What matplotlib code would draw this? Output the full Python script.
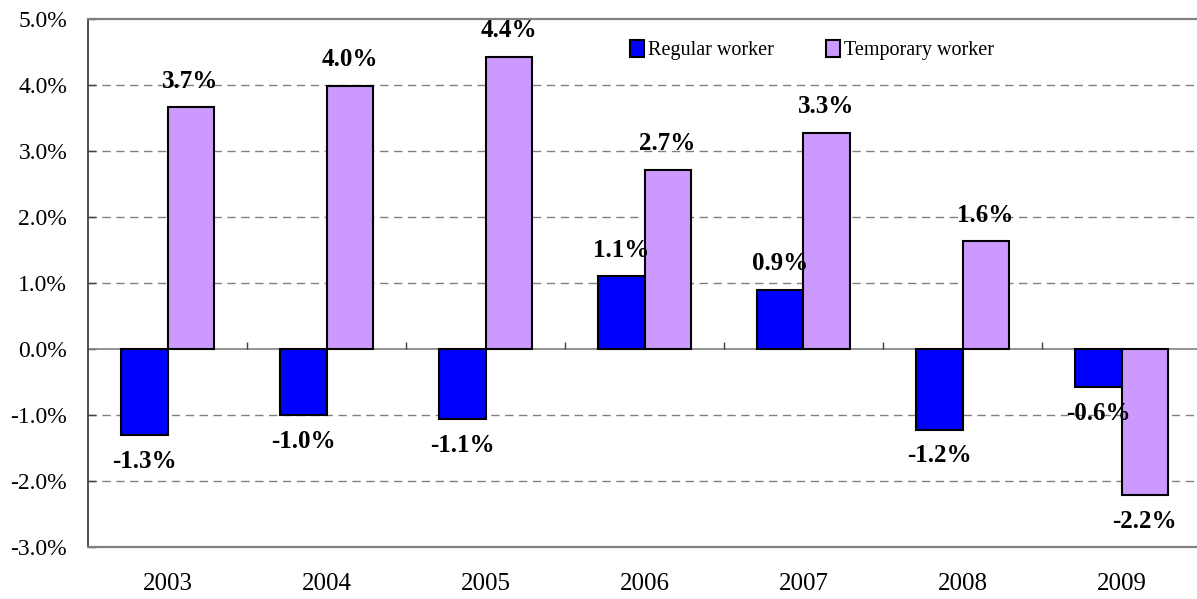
import numpy as np
import matplotlib
matplotlib.use('Agg')
import matplotlib.pyplot as plt
from matplotlib.ticker import FuncFormatter

plt.rcParams['font.family'] = ['Liberation Serif', 'DejaVu Serif']

# Дані
years = ['2003', '2004', '2005', '2006', '2007', '2008', '2009']
regular = [-1.3, -1.0, -1.06, 1.1, 0.89, -1.22, -0.57]
temporary = [3.66, 3.99, 4.42, 2.71, 3.28, 1.63, -2.21]
regular_lbl = ['-1.3%', '-1.0%', '-1.1%', '1.1%', '0.9%', '-1.2%', '-0.6%']
temporary_lbl = ['3.7%', '4.0%', '4.4%', '2.7%', '3.3%', '1.6%', '-2.2%']

fig = plt.figure(figsize=(11.97, 5.99), dpi=100)
ax = fig.add_axes([88 / 1197, 52 / 599, 1113 / 1197, 528 / 599])

x = np.arange(len(years))
w = 0.29
b1 = ax.bar(x - w / 2, regular, w, color='#0000FF', edgecolor='black',
            linewidth=1.5, label='Regular worker', zorder=3)
b2 = ax.bar(x + w / 2, temporary, w, color='#CC99FF', edgecolor='black',
            linewidth=1.5, label='Temporary worker', zorder=3)

# Підписи значень
for bars, labels in [(b1, regular_lbl), (b2, temporary_lbl)]:
    for bar, lbl in zip(bars, labels):
        h = bar.get_height()
        off = 19 if h >= 0 else -19
        ax.annotate(lbl, (bar.get_x() + bar.get_width() / 2, h),
                    xytext=(0, off), textcoords='offset points',
                    ha='center', va='center', fontsize=18,
                    fontweight='bold', zorder=5)

ax.set_xlim(-0.5, len(years) - 0.5)
ax.set_ylim(-3, 5)
ax.set_yticks(np.arange(-3, 6, 1))
ax.yaxis.set_major_formatter(FuncFormatter(lambda v, p: f'{v:.1f}%'))
ax.set_xticks(x)
ax.set_xticklabels(years)

ax.tick_params(axis='y', direction='in', length=6, width=1,
               color='#404040', labelsize=17, pad=15)
ax.tick_params(axis='x', length=0, labelsize=18, pad=19)

for v in [-2, -1, 1, 2, 3, 4]:
    ax.axhline(v, color='#808080', linewidth=1, linestyle=(0, (6, 4)),
               zorder=1)
ax.axhline(0, color='#808080', linewidth=1.2, zorder=2)
ax.vlines(x[:-1] + 0.5, 0, 0.11, color='#404040', linewidth=1, zorder=2)

ax.spines['left'].set_color('#404040')
ax.spines['left'].set_linewidth(1.3)
for s in ['top', 'bottom']:
    ax.spines[s].set_color('#808080')
    ax.spines[s].set_linewidth(1.6)
ax.spines['right'].set_visible(False)

ax.legend(loc='center left', bbox_to_anchor=(630 / 1197, 1 - 50 / 599),
          bbox_transform=fig.transFigure, ncol=2, frameon=False,
          fontsize=14.5, handlelength=0.7, handleheight=0.9,
          handletextpad=0.2, columnspacing=2.6, borderpad=0,
          borderaxespad=0)

plt.savefig('out.png', dpi=100)
